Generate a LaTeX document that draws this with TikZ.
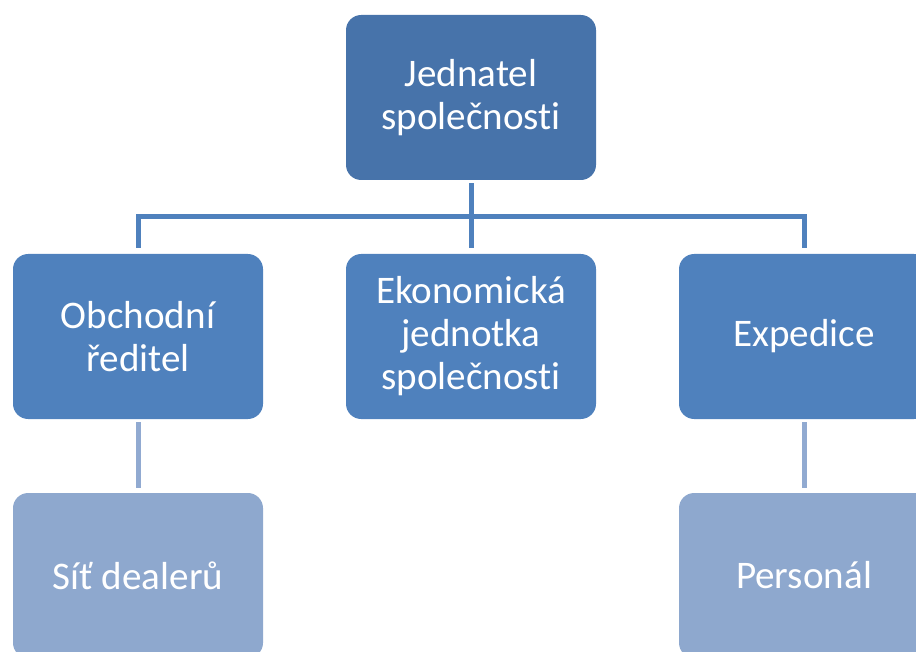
\documentclass[tikz,border=0pt]{standalone}
\usepackage{fontspec}
\setmainfont{Carlito}[Ligatures={NoCommon}]
\usepackage{xcolor}
\usepackage{tikz}
\usetikzlibrary{positioning}

\definecolor{headblue}{HTML}{4773AA}
\definecolor{midblue}{HTML}{4F81BD}
\definecolor{lowblue}{HTML}{8EA8CE}
\definecolor{lowlink}{HTML}{91AAD1}

\tikzset{
    orgbox/.style={rectangle, rounded corners=0.38cm, minimum width=6.25cm, minimum height=4.125cm,
        text=white, align=center, inner sep=0pt, outer sep=0pt,
        font=\fontsize{27.8}{30.6}\selectfont},
    headbox/.style={orgbox, fill=headblue},
    midbox/.style={orgbox, fill=midblue},
    lowbox/.style={orgbox, fill=lowblue},
    link/.style={line width=0.125cm, draw=midblue},
    lowlinkstyle/.style={line width=0.125cm, draw=lowlink, shorten <=0.08cm, shorten >=0.12cm},
}

\begin{document}
\begin{tikzpicture}[]

    \useasboundingbox (0, 0) rectangle (22.9, 16.275);
    \clip (0, 0) rectangle (22.9, 16.275);

    % boxes
    \node[headbox] (jednatel) at (11.775, 13.8375) {Jednatel\\společnosti};

    \node[midbox] (obchod) at (3.45, 7.8625) {Obchodní\\ředitel};
    \node[midbox] (ekonom) at (11.775, 7.8625) {Ekonomická\\jednotka\\společnosti};
    \node[midbox] (expedice) at (20.1, 7.8625) {Expedice};

    \node[lowbox] (dealeri) at (3.45, 1.8875) {Síť dealerů};
    \node[lowbox] (personal) at (20.1, 1.8875) {Personál};

    % connectors
    \coordinate (bus) at (11.775, 10.85);
    \draw[link, shorten <=0.08cm] (jednatel.south) -- (bus);
    \draw[link, shorten <=0.15cm] (obchod.north) |- (bus);
    \draw[link, shorten <=0.15cm] (expedice.north) |- (bus);
    \draw[link, shorten >=0.15cm] (bus) -- (ekonom.north);

    \draw[lowlinkstyle] (obchod.south) -- (dealeri.north);
    \draw[lowlinkstyle] (expedice.south) -- (personal.north);

\end{tikzpicture}
\end{document}
